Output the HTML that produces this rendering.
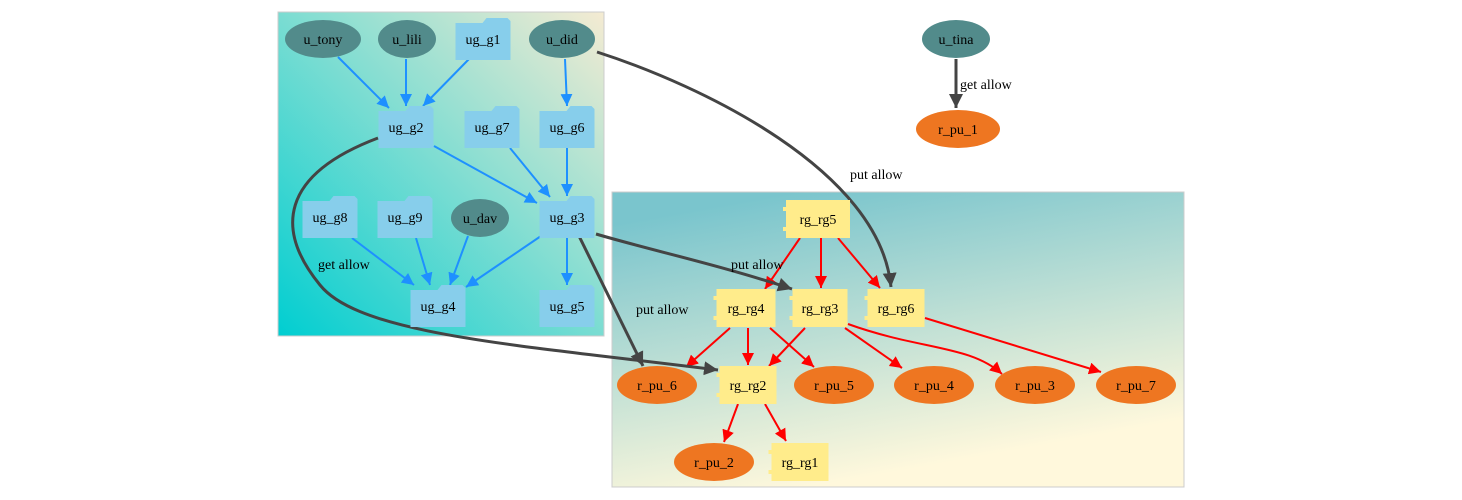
<!DOCTYPE html>
<html><head><meta charset="utf-8"><style>
html,body{margin:0;padding:0;background:#fff;}
svg{display:block;font-family:"Liberation Serif",serif;}
</style></head><body>
<svg id="g" width="1462" height="500" viewBox="0 0 1462 500" xmlns="http://www.w3.org/2000/svg">
<defs>
<linearGradient id="c1" x1="0" y1="1" x2="1" y2="0">
<stop offset="0" stop-color="#00CED1"/><stop offset="1" stop-color="#F5EBD2"/></linearGradient>
<linearGradient id="c2" x1="0" y1="0" x2="0.35" y2="1">
<stop offset="0.1" stop-color="#7AC5CD"/><stop offset="1" stop-color="#FFF8DC"/></linearGradient>
<marker id="mb" viewBox="0 0 10 10" refX="10" refY="5" markerWidth="12" markerHeight="12" markerUnits="userSpaceOnUse" orient="auto"><path d="M0,0L10,5L0,10z" fill="#1E90FF"/></marker>
<marker id="mr" viewBox="0 0 10 10" refX="10" refY="5" markerWidth="12" markerHeight="12" markerUnits="userSpaceOnUse" orient="auto"><path d="M0,0L10,5L0,10z" fill="#FF0000"/></marker>
<marker id="mg" viewBox="0 0 10 10" refX="10" refY="5" markerWidth="14" markerHeight="14" markerUnits="userSpaceOnUse" orient="auto"><path d="M0,0L10,5L0,10z" fill="#444"/></marker>
</defs>
<rect x="278" y="12" width="326" height="324" fill="url(#c1)" stroke="#ccc"/>
<rect x="612" y="192" width="572" height="295" fill="url(#c2)" stroke="#ccc"/>
<g id="edges"></g>
<g id="nodes"></g>
<g id="labels" font-size="14" fill="#000">
<text x="960" y="89">get allow</text>
<text x="850" y="179">put allow</text>
<text x="731" y="269">put allow</text>
<text x="636" y="314">put allow</text>
<text x="318" y="269">get allow</text>
</g>
</svg>
<script>
const nodes=[
["u_tony","user",323,39,38],["u_lili","user",407,39,29],["ug_g1","folder",483,39,55],["u_did","user",562,39,33],
["ug_g2","folder",406,127,55],["ug_g7","folder",492,127,55],["ug_g6","folder",567,127,55],
["ug_g8","folder",330,217,55],["ug_g9","folder",405,217,55],["u_dav","user",480,218,29],["ug_g3","folder",567,217,55],
["ug_g4","folder",438,306,55],["ug_g5","folder",567,306,55],
["u_tina","user",956,39,34],["r_pu_1","egg",958,129,42],
["rg_rg5","comp",818,219,64],["rg_rg4","comp",746,308,59],["rg_rg3","comp",820,308,55],["rg_rg6","comp",896,308,57],
["r_pu_6","egg",657,385,40],["rg_rg2","comp",748,385,57],["r_pu_5","egg",834,385,40],["r_pu_4","egg",934,385,40],
["r_pu_3","egg",1035,385,40],["r_pu_7","egg",1136,385,40],["r_pu_2","egg",714,462,40],["rg_rg1","comp",800,462,57]];
const edges=[
["b","M338,57L389,108"],["b","M406,59L406,106"],["b","M470,58L423,106"],["b","M565,59L567,106"],
["b","M434,146L537,203"],["b","M510,148L550,197"],["b","M567,148L567,196"],
["b","M352,238L414,285"],["b","M416,238L430,285"],["b","M468,236L450,285"],["b","M541,236L466,287"],["b","M567,238L567,285"],
["r","M800,238L765,289"],["r","M821,238L821,288"],["r","M838,238L880,288"],
["r","M730,328L686,367"],["r","M748,328L748,365"],["r","M770,328L814,367"],["r","M805,328L769,366"],
["r","M845,328L902,368"],["r","M848,324C920,350 970,345 1002,374"],["r","M925,318L1101,372"],
["r","M738,404L724,442"],["r","M765,404L786,441"],
["g","M956,59L956,108"],
["g","M597,52C700,85 880,170 891,287"],
["g","M596,234C650,250 720,265 792,289"],
["g","M579,236L643,366"],
["g","M378,138C280,175 275,230 320,285C360,335 520,345 718,370"]];
const ce=(t)=>document.createElementNS("http://www.w3.org/2000/svg",t);
const E=document.getElementById("edges"),N=document.getElementById("nodes");
const col={b:"#1E90FF",r:"#FF0000",g:"#444444"};
edges.forEach((e,i)=>{const p=ce("path");


p.setAttribute("d",e[1]);p.setAttribute("fill","none");p.setAttribute("stroke",col[e[0]]);
p.setAttribute("stroke-width",e[0]=="g"?3:2);p.setAttribute("marker-end","url(#m"+e[0]+")");E.appendChild(p);});
nodes.forEach(n=>{const [id,t,x,y,w]=n;const g=ce("g");


let s;
if(t=="user"||t=="egg"){s=ce("ellipse");s.setAttribute("cx",x);s.setAttribute("cy",y);s.setAttribute("rx",w);s.setAttribute("ry",19);
s.setAttribute("fill",t=="user"?"#528B8B":"#EE7621");g.appendChild(s);}
else if(t=="folder"){const h=42,x0=x-w/2,y0=y-h/2,x1=x+w/2,y1=y+h/2;s=ce("path");
s.setAttribute("d",`M${x0},${y0+5}L${x1-28},${y0+5}L${x1-24},${y0}L${x1-3},${y0}L${x1},${y0+3}L${x1},${y1}L${x0},${y1}Z`);
s.setAttribute("fill","#87CEEB");g.appendChild(s);}
else{const h=38,x0=x-w/2,y0=y-h/2;s=ce("rect");s.setAttribute("x",x0);s.setAttribute("y",y0);s.setAttribute("width",w);s.setAttribute("height",h);
s.setAttribute("fill","#FFEC8B");g.appendChild(s);
[y0+7,y0+h-11].forEach(yy=>{const r=ce("rect");r.setAttribute("x",x0-3);r.setAttribute("y",yy);r.setAttribute("width",6);r.setAttribute("height",4);r.setAttribute("fill","#FFEC8B");g.appendChild(r);});}
const tx=ce("text");tx.setAttribute("x",x);tx.setAttribute("y",y+5);tx.setAttribute("text-anchor","middle");tx.setAttribute("font-size","14");
tx.textContent=id;g.appendChild(tx);N.appendChild(g);});
</script>
</body></html>
